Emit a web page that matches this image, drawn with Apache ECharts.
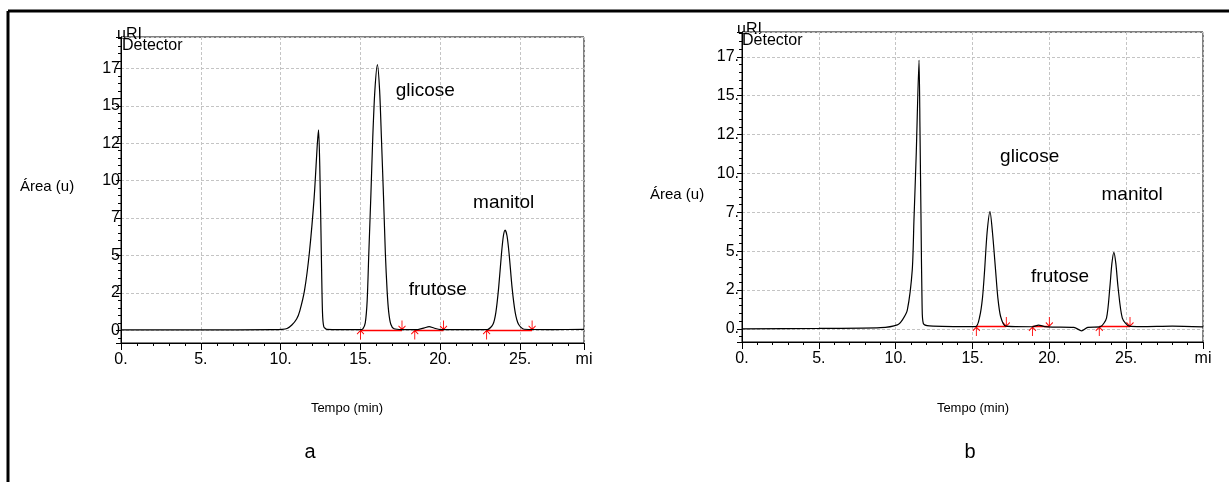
<!DOCTYPE html>
<html>
<head>
<meta charset="utf-8">
<script src="https://cdn.jsdelivr.net/npm/echarts@6.0.0/dist/echarts.min.js"></script>
<style>
  html, body { margin: 0; padding: 0; background: #fff; }
  #root { width: 1229px; height: 482px; }
</style>
</head>
<body>
<div id="root"></div>
<script>
// --- chromatogram a ---
var timeA = [0, 5, 9.5, 10.1, 10.4, 10.7, 11.0, 11.2, 11.5, 11.8, 12.1, 12.3, 12.375, 12.45, 12.55, 12.62, 12.7, 12.9, 15.0,
  15.15, 15.3, 15.42, 15.52, 15.65, 15.77, 15.9, 16.06, 16.2, 16.31, 16.44, 16.56, 16.67, 16.77, 16.9, 17.1, 17.6,
  18.6, 19.0, 19.3, 19.6, 20.0, 22.95, 23.3, 23.48, 23.65, 23.83, 23.95, 24.06, 24.18, 24.31, 24.5, 24.69, 24.9, 25.25, 27, 29];
var signalA = [0.03, 0.03, 0.04, 0.06, 0.12, 0.35, 0.75, 1.3, 2.7, 5.2, 8.9, 12.5, 13.4, 11.0, 5.0, 1.2, 0.25, 0.06, 0.04,
  0.1, 0.5, 2.0, 5.1, 9.0, 12.9, 16.0, 17.75, 16.0, 12.9, 9.0, 5.1, 2.6, 1.2, 0.4, 0.1, 0.05,
  0.05, 0.16, 0.24, 0.15, 0.05, 0.05, 0.4, 1.2, 2.8, 5.1, 6.3, 6.7, 6.3, 5.1, 2.8, 1.2, 0.4, 0.07, 0.05, 0.06];
var intStartA = [15.0, 18.4, 22.9];
var intEndA = [17.6, 20.2, 25.75];
var intLevelA = 0.02;

// --- chromatogram b ---
var timeB = [0, 5, 9, 10.11, 10.45, 10.76, 11.08, 11.19, 11.34, 11.52, 11.58, 11.65, 11.72, 11.8, 12.2, 15.2,
  15.47, 15.65, 15.79, 15.95, 16.14, 16.3, 16.5, 16.65, 16.83, 17.16, 18.9, 19.3, 19.7, 20.2, 21.6, 22.1, 22.5,
  23.33, 23.72, 23.94, 24.07, 24.2, 24.33, 24.47, 24.75, 25.2, 26, 28, 30];
var signalB = [0.0, 0.03, 0.08, 0.26, 0.6, 1.22, 3.8, 7.0, 11.3, 17.3, 13.0, 7.0, 1.5, 0.35, 0.2, 0.15,
  0.8, 2.0, 3.8, 6.2, 7.54, 6.2, 3.8, 2.0, 0.8, 0.18, 0.14, 0.25, 0.15, 0.12, 0.1, -0.12, 0.1,
  0.15, 0.7, 2.7, 4.2, 4.93, 4.2, 2.7, 0.7, 0.18, 0.15, 0.18, 0.13];
var intStartB = [15.25, 18.9, 23.25];
var intEndB = [17.2, 20.0, 25.25];
var intLevelB = 0.15;

// peak names and where their captions sit (minutes, signal)
var peakNames = ['glicose', 'frutose', 'manitol'];
var captionA = [[19.06, 16.0], [19.84, 2.74], [23.97, 8.55]];
var captionB = [[18.72, 11.1], [20.7, 3.34], [25.39, 8.6]];

var FONT = 'Liberation Sans, Arial, sans-serif';
var upArrow = 'path://M4,0 L4,10 M0,4 L4,0 L8,4';
var downArrow = 'path://M4,10 L4,0 M0,6 L4,10 L8,6';

function pairs(xs, ys) {
  return xs.map(function (x, i) { return [x, ys[i]]; });
}

function xAxisFor(idx, max) {
  return {
    gridIndex: idx, type: 'value', min: 0, max: max, interval: 5,
    axisLine: { onZero: false, lineStyle: { color: '#000', width: 1 } },
    axisTick: { length: 7, lineStyle: { color: '#000' } },
    minorTick: { show: true, splitNumber: 5, length: 3, lineStyle: { color: '#000' } },
    axisLabel: {
      color: '#000', fontSize: 16, fontFamily: FONT, margin: 9,
      formatter: function (v) { return v === max ? 'mi' : v + '.'; }
    },
    splitLine: { show: true, lineStyle: { color: '#c4c4c4', type: [3, 2], width: 1 } }
  };
}

function yAxisFor(idx, min, max, dot) {
  return {
    gridIndex: idx, type: 'value', min: min, max: max, minInterval: 2.5, maxInterval: 2.5,
    axisLine: { show: true, lineStyle: { color: '#000', width: 1 } },
    axisTick: { length: 5, lineStyle: { color: '#000' } },
    minorTick: { show: true, splitNumber: 5, length: 3, lineStyle: { color: '#000' } },
    axisLabel: {
      color: '#000', fontSize: 16, fontFamily: FONT, margin: dot ? 3 : 1,
      formatter: function (v) {
        var r = v / 2.5;
        if (Math.abs(r - Math.round(r)) > 1e-6) return '';
        return Math.floor(v + 1e-9) + (dot ? '.' : '');
      }
    },
    splitLine: { show: true, lineStyle: { color: '#c4c4c4', type: [3, 2], width: 1 } }
  };
}

function panelSeries(idx, times, signal, starts, ends, level, captions) {
  return [
    {
      type: 'line', xAxisIndex: idx, yAxisIndex: idx, data: pairs(times, signal),
      showSymbol: false, smooth: 0.25, silent: true,
      lineStyle: { color: '#000', width: 1.2 }
    },
    {
      type: 'lines', coordinateSystem: 'cartesian2d', xAxisIndex: idx, yAxisIndex: idx, silent: true,
      data: starts.map(function (s, i) { return { coords: [[s, level], [ends[i], level]] }; }),
      lineStyle: { color: '#ff0000', width: 1.3, opacity: 1, curveness: 0 }
    },
    {
      type: 'scatter', xAxisIndex: idx, yAxisIndex: idx, silent: true,
      data: starts.map(function (s) { return [s, level]; }),
      symbol: upArrow, symbolSize: [7, 9], symbolOffset: [0, 5],
      itemStyle: { color: 'rgba(0,0,0,0)', borderColor: '#ff0000', borderWidth: 1, opacity: 1 }
    },
    {
      type: 'scatter', xAxisIndex: idx, yAxisIndex: idx, silent: true,
      data: ends.map(function (e) { return [e, level]; }),
      symbol: downArrow, symbolSize: [7, 9], symbolOffset: [0, -5],
      itemStyle: { color: 'rgba(0,0,0,0)', borderColor: '#ff0000', borderWidth: 1, opacity: 1 }
    },
    {
      type: 'scatter', xAxisIndex: idx, yAxisIndex: idx, silent: true,
      data: captions.map(function (c, i) { return { name: peakNames[i], value: c }; }),
      symbolSize: 1, itemStyle: { color: 'rgba(0,0,0,0)', opacity: 1 },
      label: {
        show: true, position: 'inside', formatter: '{b}', opacity: 1,
        color: '#000', fontSize: 19, fontFamily: FONT,
        textBorderWidth: 0, textBorderColor: 'transparent'
      }
    }
  ];
}

function txt(x, y, s, size, align) {
  return {
    type: 'text', x: x, y: y, silent: true,
    style: { text: s, fill: '#000', font: size + 'px ' + FONT, textAlign: align || 'left', textVerticalAlign: 'middle' }
  };
}

var chart = echarts.init(document.getElementById('root'), null, { renderer: 'canvas' });
chart.setOption({
  backgroundColor: '#fff',
  animation: false,
  grid: [
    { left: 121, top: 37, width: 463, height: 306, show: true, borderColor: '#000', borderWidth: 1 },
    { left: 742, top: 32, width: 461, height: 310, show: true, borderColor: '#000', borderWidth: 1 }
  ],
  xAxis: [xAxisFor(0, 29), xAxisFor(1, 30)],
  yAxis: [yAxisFor(0, -0.85, 19.6, false), yAxisFor(1, -0.84, 19.1, true)],
  series: panelSeries(0, timeA, signalA, intStartA, intEndA, intLevelA, captionA)
    .concat(panelSeries(1, timeB, signalB, intStartB, intEndB, intLevelB, captionB)),
  graphic: [
    { type: 'line', silent: true, shape: { x1: 8, y1: 11, x2: 1229, y2: 11 }, style: { stroke: '#000', lineWidth: 3 } },
    { type: 'line', silent: true, shape: { x1: 8, y1: 11, x2: 8, y2: 482 }, style: { stroke: '#000', lineWidth: 3 } },
    txt(117, 35, 'uRI', 16),
    txt(122, 46, 'Detector', 16),
    txt(20, 187, 'Área (u)', 15),
    txt(347, 408, 'Tempo (min)', 13, 'center'),
    txt(310, 452, 'a', 20, 'center'),
    txt(737, 30, 'uRI', 16),
    txt(742, 41, 'Detector', 16),
    txt(650, 195, 'Área (u)', 15),
    txt(973, 408, 'Tempo (min)', 13, 'center'),
    txt(970, 452, 'b', 20, 'center')
  ]
});
</script>
</body>
</html>
